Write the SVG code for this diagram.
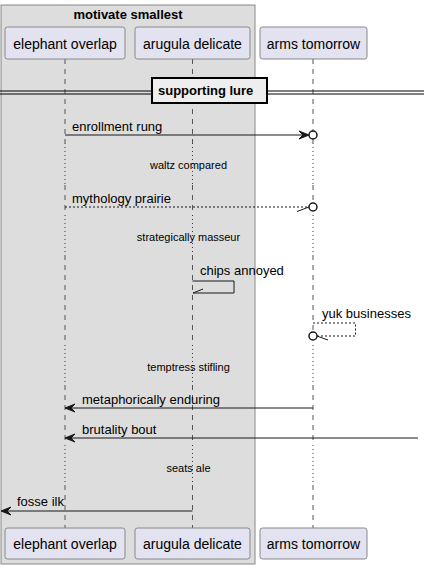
<svg xmlns="http://www.w3.org/2000/svg" width="424" height="569" viewBox="0 0 424 569">
<style>
text{font-family:"Liberation Sans",Arial,sans-serif;fill:#000}
.pt{font-size:14px;text-anchor:middle}
.msg{font-size:13px}
.dl{font-size:11px;text-anchor:middle}
.b{font-weight:bold}
.pbox{fill:#E2E2F0;stroke:#888;stroke-width:1}
.ll{stroke:#555;stroke-width:1;stroke-dasharray:5,5;fill:none}
.dot{stroke:#A80036;stroke-width:1;stroke-dasharray:1,3;fill:none}
.ln{stroke:#181818;stroke-width:1;fill:none}
.dsh{stroke:#181818;stroke-width:1;stroke-dasharray:2,2;fill:none}
.ah{fill:#181818;stroke:#181818}
.circ{fill:#fff;stroke:#181818;stroke-width:1.5}
</style>
<g id="group-motivate-smallest">
<rect x="1" y="5" width="254" height="559" fill="#DDDDDD" stroke="#888" stroke-width="1"/>
<text x="128" y="19" class="b" font-size="13" text-anchor="middle">motivate smallest</text>
</g>
<g id="lifelines">
<path class="ll" d="M65 59V143M65 185V215M65 255V345M65 385V445M65 485V528"/>
<path class="dot" d="M65 143V185M65 215V255M65 345V385M65 445V485"/>
<path class="ll" d="M192.5 59V143M192.5 185V215M192.5 255V345M192.5 385V445M192.5 485V528"/>
<path class="dot" d="M192.5 143V185M192.5 215V255M192.5 345V385M192.5 445V485"/>
<path class="ll" d="M313 59V143M313 185V215M313 255V345M313 385V445M313 485V528"/>
<path class="dot" d="M313 143V185M313 215V255M313 345V385M313 445V485"/>
</g>
<g id="elephant-overlap">
<rect class="pbox" x="5" y="27" width="120" height="32" rx="2.5"/>
<text class="pt" x="65" y="49">elephant overlap</text>
<rect class="pbox" x="5" y="528" width="120" height="31" rx="2.5"/>
<text class="pt" x="65" y="549">elephant overlap</text>
</g>
<g id="arugula-delicate">
<rect class="pbox" x="135" y="27" width="115" height="32" rx="2.5"/>
<text class="pt" x="192.5" y="49">arugula delicate</text>
<rect class="pbox" x="135" y="528" width="115" height="31" rx="2.5"/>
<text class="pt" x="192.5" y="549">arugula delicate</text>
</g>
<g id="arms-tomorrow">
<rect class="pbox" x="260" y="27" width="107" height="32" rx="2.5"/>
<text class="pt" x="313.5" y="49">arms tomorrow</text>
<rect class="pbox" x="260" y="528" width="107" height="31" rx="2.5"/>
<text class="pt" x="313.5" y="549">arms tomorrow</text>
</g>
<g id="divider-supporting-lure">
<line x1="0" y1="91" x2="424" y2="91" stroke="#000" stroke-width="1"/>
<line x1="0" y1="94" x2="424" y2="94" stroke="#000" stroke-width="1"/>
<rect x="152" y="78" width="115" height="25" fill="#EEEEEE" stroke="#000" stroke-width="2"/>
<text x="158" y="95" class="b" font-size="13">supporting lure</text>
</g>
<g id="delays">
<text class="dl" x="188.5" y="169">waltz compared</text>
<text class="dl" x="188.5" y="241">strategically masseur</text>
<text class="dl" x="188.5" y="371">temptress stifling</text>
<text class="dl" x="188.5" y="472">seats ale</text>
</g>
<g id="connectors">
<line class="ln" x1="65" y1="135" x2="306" y2="135"/>
<polygon class="ah" points="309,135 299,131 303,135 299,139"/>
<circle class="circ" cx="313" cy="135" r="4"/>
<text class="msg" x="72" y="131">enrollment rung</text>

<line class="dsh" x1="65" y1="207" x2="309" y2="207"/>
<line class="ln" x1="309" y1="207" x2="297" y2="211.5"/>
<circle class="circ" cx="313" cy="207" r="4"/>
<text class="msg" x="72" y="203">mythology prairie</text>

<polyline class="ln" points="192.5,281 234,281 234,293 193,293"/>
<line class="ln" x1="193" y1="293" x2="203" y2="289"/>
<text class="msg" x="200" y="275">chips annoyed</text>

<polyline class="dsh" points="313,323 355.5,323 355.5,336 317,336"/>
<line class="ln" x1="317" y1="336" x2="328" y2="340"/>
<circle class="circ" cx="313" cy="336" r="4"/>
<text class="msg" x="322" y="318">yuk businesses</text>

<line class="ln" x1="313" y1="408" x2="68" y2="408"/>
<polygon class="ah" points="65,408 75,404 71,408 75,412"/>
<text class="msg" x="82" y="404">metaphorically enduring</text>

<line class="ln" x1="418" y1="438" x2="68" y2="438"/>
<polygon class="ah" points="65,438 75,434 71,438 75,442"/>
<text class="msg" x="82" y="434">brutality bout</text>

<line class="ln" x1="192.5" y1="511" x2="4" y2="511"/>
<polygon class="ah" points="1,511 11,507 7,511 11,515"/>
<text class="msg" x="17" y="506">fosse ilk</text>
</g>
</svg>
